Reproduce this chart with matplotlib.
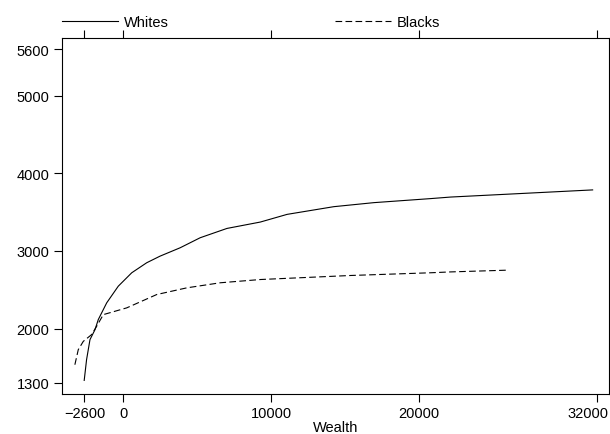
import matplotlib.pyplot as plt
import matplotlib.transforms as mtransforms
import numpy as np

plt.rcParams['font.family'] = ['Liberation Sans', 'DejaVu Sans']

# smoothed income by wealth
whites_x = [-2620, -2460, -2230, -1890, -1670, -1100, -320, 590, 1600, 2500,
            3860, 5210, 7020, 9270, 11080, 14230, 16940, 20770, 22120, 31710]
whites_y = [1333, 1600, 1858, 1987, 2116, 2332, 2546, 2719, 2848, 2933,
            3041, 3170, 3290, 3372, 3471, 3570, 3622, 3674, 3694, 3786]

blacks_x = [-3250, -3020, -2680, -2120, -1780, -1330, 250, 2280, 4310, 6560,
            9270, 15360, 20770, 22120, 25850]
blacks_y = [1535, 1729, 1836, 1923, 2030, 2180, 2267, 2439, 2525, 2590,
            2632, 2684, 2719, 2730, 2752]

xticks = [-2600, 0, 10000, 20000, 32000]
yticks = [1300, 2000, 3000, 4000, 5000, 5600]

fig = plt.figure(figsize=(6.1, 4.35), dpi=100)
ax = fig.add_axes([62/610, 1 - 395/435, 547/610, 356/435])

ax.plot(whites_x, whites_y, color='black', lw=0.8, label='Whites')
ax.plot(blacks_x, blacks_y, color='black', lw=0.8, dashes=(6, 3), label='Blacks')

ax.set_xlim(-4119, 32815)
ax.set_ylim(1158, 5742)
ax.set_xticks(xticks)
ax.set_yticks(yticks)
ax.tick_params(direction='out', length=6, width=0.8, labelsize=10.5, pad=3,
               top=True, right=True, labeltop=False, labelright=False)
for s in ax.spines.values():
    s.set_linewidth(0.8)
ax.set_xlabel('Wealth', fontsize=10.5, labelpad=0)

# keep the last x label inside the figure
last = ax.get_xticklabels()[-1]
last.set_transform(last.get_transform() +
                   mtransforms.ScaledTranslation(-9/100, 0, fig.dpi_scale_trans))

ax.legend(loc='lower left', bbox_to_anchor=(62/610, 1 - 30/435),
          bbox_transform=fig.transFigure, ncol=2, frameon=False, fontsize=10.5,
          handlelength=3.84, handletextpad=0.41, columnspacing=11.4,
          borderpad=0, borderaxespad=0)

fig.savefig('out.png', dpi=100)
